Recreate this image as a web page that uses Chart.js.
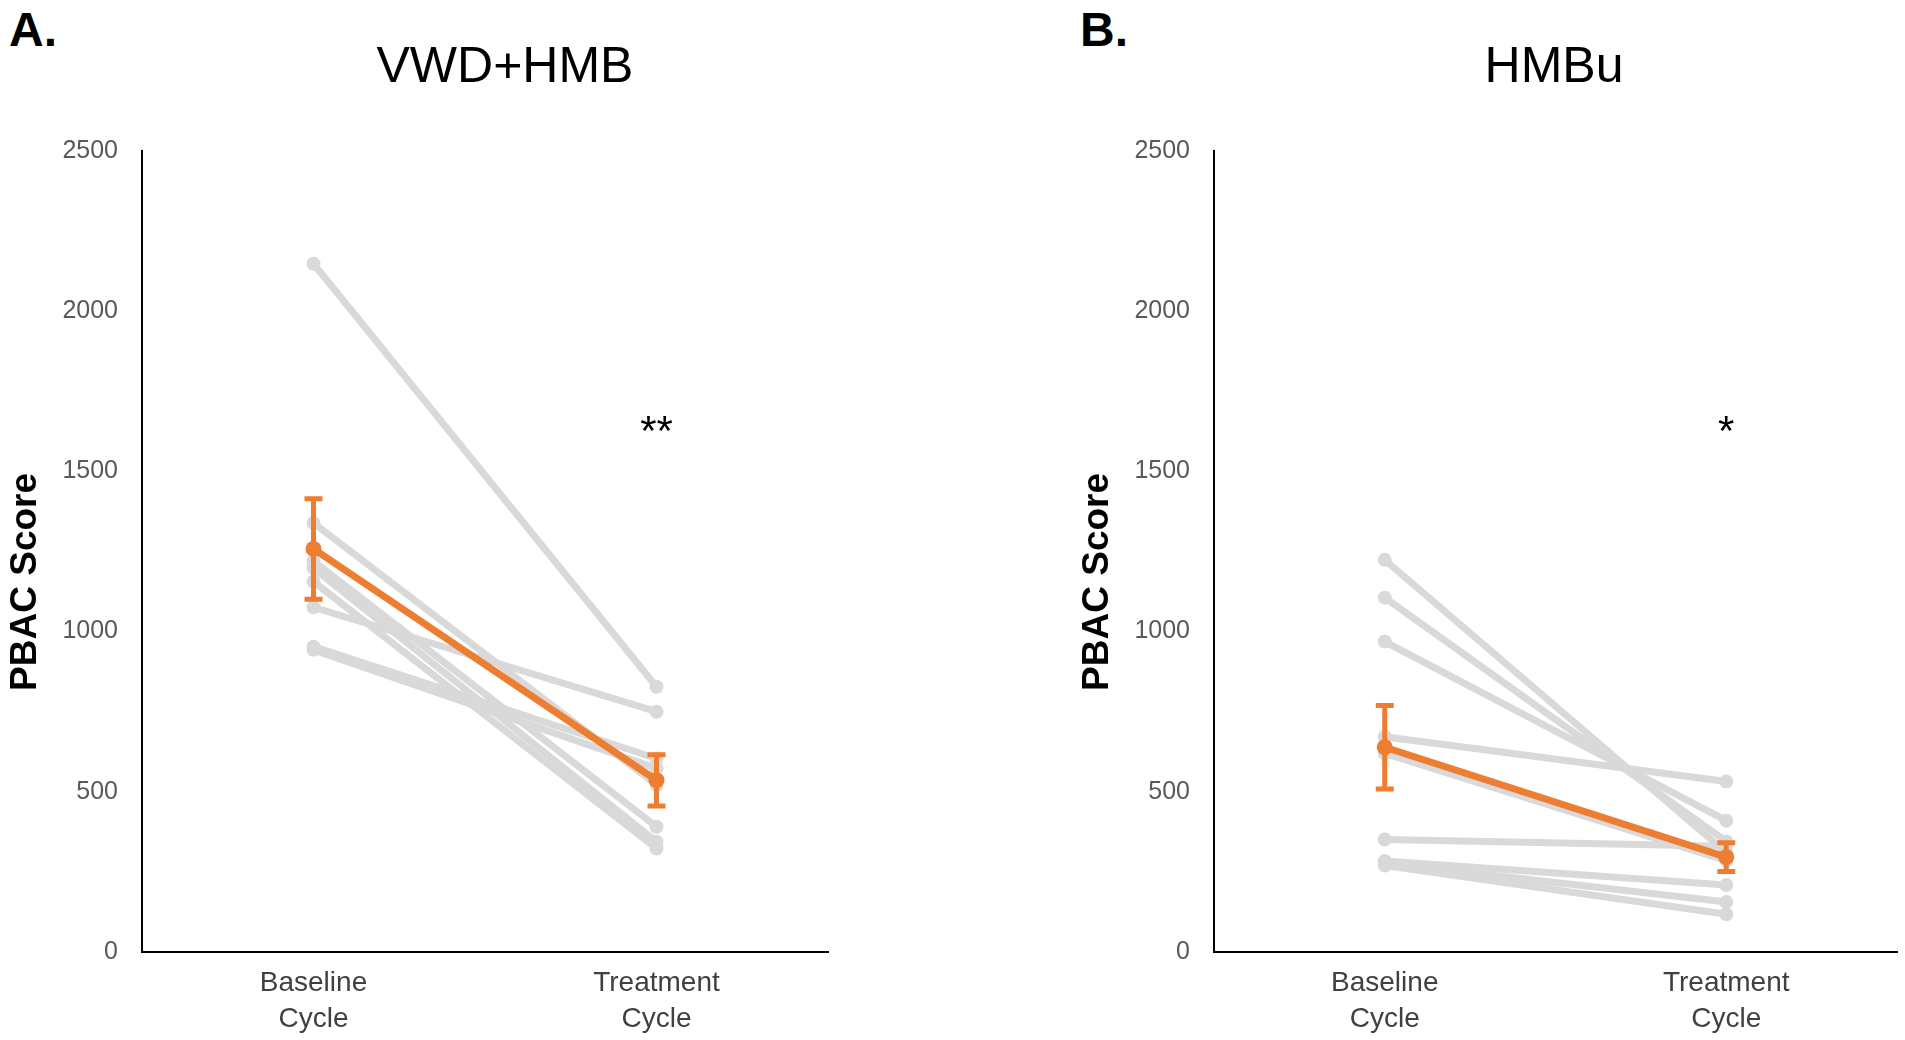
<!DOCTYPE html>
<html>
<head>
<meta charset="utf-8">
<script src="https://cdn.jsdelivr.net/npm/chart.js@4.4.1/dist/chart.umd.min.js"></script>
<style>
  body { margin: 0; background: #fff; width: 1905px; height: 1040px; overflow: hidden; position: relative; font-family: "Liberation Sans", Arial, sans-serif; }
  .panel { position: absolute; top: 0; }
  .tag { position: absolute; top: 2px; font-size: 48px; font-weight: bold; color: #000; }
  .title { position: absolute; top: 36px; font-size: 50px; color: #000; transform: translateX(-50%); white-space: nowrap; }
</style>
</head>
<body>

<div class="tag" style="left:9px;">A.</div>
<div class="title" style="left:505px;">VWD+HMB</div>
<div class="tag" style="left:1080px;">B.</div>
<div class="title" style="left:1554px;">HMBu</div>

<div class="panel" style="left:0px;"><canvas id="chartA" width="850" height="1040"></canvas></div>
<div class="panel" style="left:1072px;"><canvas id="chartB" width="833" height="1040"></canvas></div>

<script>
// categories and axis ticks
const cycleLabels = [['Baseline', 'Cycle'], ['Treatment', 'Cycle']];
const yTickValues = [0, 500, 1000, 1500, 2000, 2500];

// A. VWD+HMB - individual PBAC scores (baseline -> treatment)
const vwdBaseline  = [2148, 1339, 1220, 1198, 1156, 1076, 953, 943];
const vwdTreatment = [ 828,  521,  391,  344,  323,  750, 604, 573];
const vwdMean = [1258, 536];
const vwdErr  = [157, 80];
const vwdSig  = '**';

// B. HMBu - individual PBAC scores
const hmbuBaseline  = [1224, 1106, 969, 672, 620, 351, 284, 278, 270];
const hmbuTreatment = [ 310,  345, 410, 532, 285, 330, 209, 156, 118];
const hmbuMean = [639, 296];
const hmbuErr  = [130, 45];
const hmbuSig  = '*';

const sigLevel = 1620;   // height of the significance stars (in PBAC units)

const ORANGE = '#ED7D31';
const GREY = '#D9D9D9';

// error bars round the mean, drawn from the y scale
const errorBarPlugin = {
  id: 'errorBars',
  afterDatasetsDraw(chart, args, opts) {
    const meta = chart.getDatasetMeta(0);
    const y = chart.scales.y;
    const ctx = chart.ctx;
    ctx.save();
    ctx.strokeStyle = opts.color;
    ctx.lineWidth = 5;
    meta.data.forEach((pt, i) => {
      const m = opts.mean[i], e = opts.err[i];
      const top = y.getPixelForValue(m + e);
      const bot = y.getPixelForValue(m - e);
      ctx.beginPath();
      ctx.moveTo(pt.x, top); ctx.lineTo(pt.x, bot);
      ctx.moveTo(pt.x - 9, top); ctx.lineTo(pt.x + 9, top);
      ctx.moveTo(pt.x - 9, bot); ctx.lineTo(pt.x + 9, bot);
      ctx.stroke();
    });
    ctx.restore();
  }
};

// significance stars above the treatment cycle, and the y axis title
const labelPlugin = {
  id: 'panelLabels',
  afterDraw(chart, args, opts) {
    const ctx = chart.ctx;
    const area = chart.chartArea;
    const x = chart.scales.x.getPixelForValue(1);
    const y = chart.scales.y.getPixelForValue(opts.level);
    ctx.save();
    ctx.fillStyle = '#000';
    ctx.font = '42px "Liberation Sans", Arial, sans-serif';
    ctx.textAlign = 'center';
    ctx.textBaseline = 'middle';
    ctx.fillText(opts.text, x, y);

    ctx.translate(26, area.top + (area.bottom - area.top) * 0.538);
    ctx.rotate(-Math.PI / 2);
    ctx.font = 'bold 37px "Liberation Sans", Arial, sans-serif';
    ctx.fillText('PBAC Score', 0, 0);
    ctx.restore();
  }
};

function makePanel(id, baseline, treatment, mean, err, sig, padRight) {
  const datasets = [{
    data: mean,
    borderColor: ORANGE,
    backgroundColor: ORANGE,
    borderWidth: 7,
    pointRadius: 8,
    pointBorderWidth: 0,
    order: 0
  }];
  baseline.forEach((b, i) => {
    datasets.push({
      data: [b, treatment[i]],
      borderColor: GREY,
      backgroundColor: GREY,
      borderWidth: 7,
      pointRadius: 7,
      pointBorderWidth: 0,
      order: 1
    });
  });

  new Chart(document.getElementById(id), {
    type: 'line',
    data: { labels: cycleLabels, datasets: datasets },
    plugins: [errorBarPlugin, labelPlugin],
    options: {
      responsive: false,
      animation: false,
      clip: false,
      layout: { padding: { top: 151, right: padRight, bottom: 0, left: 0 } },
      plugins: {
        legend: { display: false },
        tooltip: { enabled: false },
        errorBars: { mean: mean, err: err, color: ORANGE },
        panelLabels: { text: sig, level: sigLevel }
      },
      scales: {
        x: {
          offset: true,
          grid: { display: false, drawTicks: false },
          border: { display: true, color: '#000', width: 2 },
          ticks: {
            color: '#404040',
            padding: 14,
            font: { family: '"Liberation Sans", Arial, sans-serif', size: 28, lineHeight: 1.27 }
          },
          afterFit(scale) { scale.height = 88; }
        },
        y: {
          min: 0,
          max: 2500,
          afterBuildTicks(scale) { scale.ticks = yTickValues.map(v => ({ value: v })); },
          grid: { display: false, drawTicks: false },
          border: { display: true, color: '#000', width: 2 },
          ticks: {
            color: '#595959',
            padding: 24,
            callback: v => String(v),
            font: { family: '"Liberation Sans", Arial, sans-serif', size: 25 }
          },
          afterFit(scale) { scale.width = 142; }
        }
      }
    }
  });
}

makePanel('chartA', vwdBaseline, vwdTreatment, vwdMean, vwdErr, vwdSig, 22);
makePanel('chartB', hmbuBaseline, hmbuTreatment, hmbuMean, hmbuErr, hmbuSig, 6);
</script>
</body>
</html>
